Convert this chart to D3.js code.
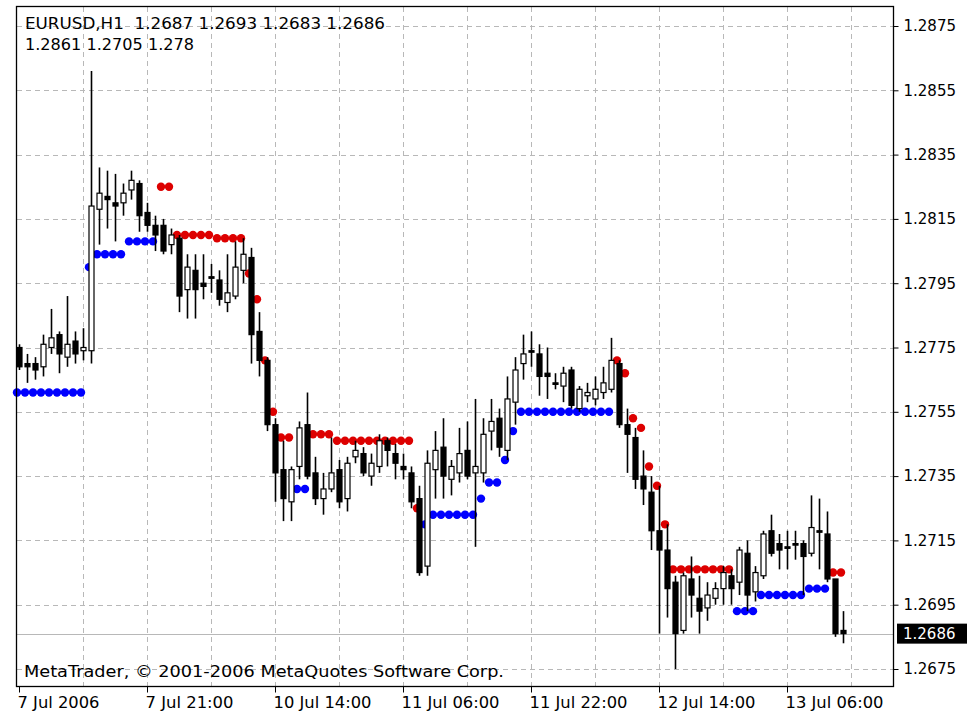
<!DOCTYPE html>
<html><head><meta charset="utf-8">
<script src="https://cdn.jsdelivr.net/npm/d3@7"></script>
<style>
html,body{margin:0;padding:0;background:#fff;}
svg{display:block;font-family:"DejaVu Sans",Verdana,sans-serif;}
</style></head><body>
<svg id="chart" width="972" height="727"></svg>
<script>
// ---------- data ----------
const symbolTitle = "EURUSD,H1";
const lastBarOHLC = [1.2687, 1.2693, 1.2683, 1.2686];
const indicatorLine = ["1.2861", "1.2705", "1.278"];
const copyright = "MetaTrader, \u00A9 2001-2006 MetaQuotes Software Corp.";
const currentPrice = 1.2686;

const open = [
1.2775,1.2770,1.2770,1.2769,1.2775,1.2779,1.2772,1.2777,1.2774,1.2774,
1.2818,1.2822,1.2820,1.2820,1.2824,1.2826,1.2817,1.2813,1.2813,1.2807,
1.2809,1.2793,1.2799,1.2795,1.2797,1.2796,1.2789,1.2791,1.2799,1.2803,
1.2780,1.2771,1.2751,1.2737,1.2727,1.2738,1.2751,1.2736,1.2728,1.2731,
1.2737,1.2728,1.2741,1.2742,1.2735,1.2738,1.2746,1.2742,1.2738,1.2736,
1.2728,1.2707,1.2737,1.2744,1.2734,1.2736,1.2743,1.2736,1.2736,1.2749,
1.2753,1.2743,1.2758,1.2770,1.2774,1.2773,1.2767,1.2764,1.2763,1.2768,
1.2756,1.2760,1.2759,1.2761,1.2762,1.2770,1.2751,1.2747,1.2735,1.2730,
1.2718,1.2712,1.2702,1.2687,1.2703,1.2697,1.2694,1.2697,1.2700,1.2704,
1.2702,1.2711,1.2699,1.2704,1.2718,1.2714,1.2713,1.2714,1.2714,1.2711,
1.2718,1.2717,1.2703,1.2687];
const high = [
1.2776,1.2773,1.2772,1.2779,1.2787,1.2780,1.2791,1.2780,1.2781,1.2861,
1.2831,1.2830,1.2829,1.2826,1.2830,1.2827,1.2820,1.2816,1.2815,1.2812,
1.2810,1.2804,1.2804,1.2804,1.2801,1.2799,1.2804,1.2808,1.2809,1.2806,
1.2786,1.2772,1.2753,1.2746,1.2738,1.2752,1.2761,1.2741,1.2736,1.2747,
1.2740,1.2741,1.2746,1.2744,1.2742,1.2748,1.2747,1.2745,1.2742,1.2738,
1.2732,1.2743,1.2749,1.2753,1.2740,1.2750,1.2752,1.2759,1.2753,1.2759,
1.2756,1.2766,1.2772,1.2779,1.2780,1.2776,1.2775,1.2767,1.2769,1.2769,
1.2763,1.2764,1.2766,1.2769,1.2778,1.2771,1.2756,1.2750,1.2743,1.2735,
1.2732,1.2720,1.2704,1.2705,1.2710,1.2704,1.2702,1.2702,1.2707,1.2706,
1.2713,1.2715,1.2707,1.2718,1.2723,1.2717,1.2718,1.2718,1.2715,1.2729,
1.2728,1.2724,1.2703,1.2693];
const low = [
1.2768,1.2764,1.2765,1.2766,1.2773,1.2767,1.2769,1.2770,1.2771,1.2770,
1.2807,1.2812,1.2808,1.2816,1.2821,1.2811,1.2811,1.2805,1.2804,1.2804,
1.2786,1.2784,1.2784,1.2790,1.2792,1.2788,1.2786,1.2790,1.2795,1.2770,
1.2766,1.2749,1.2727,1.2721,1.2721,1.2734,1.2734,1.2726,1.2723,1.2730,
1.2725,1.2724,1.2739,1.2735,1.2732,1.2736,1.2738,1.2734,1.2734,1.2725,
1.2704,1.2704,1.2728,1.2728,1.2729,1.2733,1.2734,1.2713,1.2733,1.2743,
1.2741,1.2740,1.2751,1.2765,1.2769,1.2760,1.2759,1.2762,1.2758,1.2756,
1.2755,1.2758,1.2757,1.2759,1.2761,1.2750,1.2736,1.2731,1.2726,1.2712,
1.2686,1.2691,1.2675,1.2686,1.2691,1.2686,1.2690,1.2695,1.2695,1.2695,
1.2698,1.2693,1.2696,1.2703,1.2710,1.2706,1.2706,1.2709,1.2698,1.2710,
1.2706,1.2702,1.2685,1.2683];
const close = [
1.2769,1.2769,1.2768,1.2776,1.2778,1.2773,1.2776,1.2773,1.2775,1.2819,
1.2823,1.2821,1.2819,1.2823,1.2827,1.2816,1.2813,1.2810,1.2805,1.2810,
1.2791,1.2800,1.2793,1.2794,1.2797,1.2790,1.2792,1.2800,1.2804,1.2779,
1.2771,1.2751,1.2736,1.2728,1.2737,1.2750,1.2735,1.2728,1.2731,1.2736,
1.2727,1.2739,1.2743,1.2736,1.2739,1.2746,1.2743,1.2739,1.2737,1.2727,
1.2705,1.2739,1.2743,1.2735,1.2738,1.2742,1.2735,1.2738,1.2748,1.2752,
1.2744,1.2759,1.2768,1.2773,1.2774,1.2766,1.2766,1.2764,1.2767,1.2757,
1.2762,1.2761,1.2762,1.2764,1.2771,1.2751,1.2748,1.2734,1.2731,1.2718,
1.2712,1.2700,1.2686,1.2704,1.2698,1.2693,1.2698,1.2700,1.2705,1.2700,
1.2712,1.2698,1.2705,1.2717,1.2711,1.2712,1.2713,1.2714,1.2710,1.2719,
1.2718,1.2703,1.2686,1.2686];

// trailing-stop indicator dots (blue = support below price, red = resistance above)
const blueDots = [
1.2761,1.2761,1.2761,1.2761,1.2761,1.2761,1.2761,1.2761,1.2761,1.2800,
1.2804,1.2804,1.2804,1.2804,1.2808,1.2808,1.2808,1.2808,null,null,
null,null,null,null,null,null,null,null,null,null,
null,null,null,null,null,1.2731,1.2731,null,null,null,
null,null,null,null,null,null,null,null,null,null,
null,1.2720,1.2723,1.2723,1.2723,1.2723,1.2723,1.2723,1.2728,1.2733,
1.2733,1.2740,1.2749,1.2755,1.2755,1.2755,1.2755,1.2755,1.2755,1.2755,
1.2755,1.2755,1.2755,1.2755,1.2755,null,null,null,null,null,
null,null,null,null,null,null,null,null,null,null,
1.2693,1.2693,1.2693,1.2698,1.2698,1.2698,1.2698,1.2698,1.2698,1.2700,
1.2700,1.2700,null,null];
const redDots = [
null,null,null,null,null,null,null,null,null,null,
null,null,null,null,null,null,null,null,1.2825,1.2825,
1.2810,1.2810,1.2810,1.2810,1.2810,1.2809,1.2809,1.2809,1.2809,1.2798,
1.2790,1.2771,1.2755,1.2747,1.2747,null,null,1.2748,1.2748,1.2748,
1.2746,1.2746,1.2746,1.2746,1.2746,1.2746,1.2746,1.2746,1.2746,1.2746,
1.2725,null,null,null,null,null,null,null,null,null,
null,null,null,null,null,null,null,null,null,null,
null,null,null,null,null,1.2771,1.2767,1.2753,1.2750,1.2738,
1.2732,1.2720,1.2706,1.2706,1.2706,1.2706,1.2706,1.2706,1.2706,1.2706,
null,null,null,null,null,null,null,null,null,null,
null,null,1.2705,1.2705];

const priceTicks = [1.2875,1.2855,1.2835,1.2815,1.2795,1.2775,1.2755,1.2735,1.2715,1.2695,1.2675];
const timeTickIndex = [0,16,32,48,64,80,96];
const timeTickLabels = ["7 Jul 2006","7 Jul 21:00","10 Jul 14:00","11 Jul 06:00","11 Jul 22:00","12 Jul 14:00","13 Jul 06:00"];
const gridIndex = [8,16,24,32,40,48,56,64,72,80,88,96,104];

// ---------- drawing ----------
const W = 972, H = 727;
const plot = {left:16, right:893, top:6, bottom:686};
const svg = d3.select("#chart");
svg.append("rect").attr("width",W).attr("height",H).attr("fill","#fff");

const bars = open.map((o,i)=>({i, o, h:high[i], l:low[i], c:close[i]}));
const x = d3.scaleLinear().domain([0, bars.length-1]).range([19, 843]);
const y = d3.scaleLinear().domain([1.2675, 1.2875]).range([669, 26]);
const px = v => Math.round(v) + 0.5;

const grid = svg.append("g").attr("stroke","#b8b8b8").attr("stroke-width",1).attr("stroke-dasharray","5,4");
grid.selectAll("line.h").data(priceTicks).join("line").attr("class","h")
  .attr("x1",plot.left+1).attr("x2",plot.right).attr("y1",d=>px(y(d))).attr("y2",d=>px(y(d)));
grid.selectAll("line.v").data(gridIndex).join("line").attr("class","v")
  .attr("x1",d=>px(x(d))).attr("x2",d=>px(x(d))).attr("y1",plot.top+1).attr("y2",plot.bottom);

// current price line
svg.append("line").attr("x1",plot.left).attr("x2",plot.right)
  .attr("y1",px(y(currentPrice))).attr("y2",px(y(currentPrice)))
  .attr("stroke","#b8b8b8").attr("stroke-width",1);

// indicator dots (drawn beneath the candles)
const dotR = 4.2, dotDx = -2;
svg.append("g").selectAll("circle").data(blueDots.map((v,i)=>({i,v})).filter(d=>d.v!==null)).join("circle")
  .attr("cx",d=>x(d.i)+dotDx).attr("cy",d=>y(d.v)).attr("r",dotR).attr("fill","#0000ff");
svg.append("g").selectAll("circle").data(redDots.map((v,i)=>({i,v})).filter(d=>d.v!==null)).join("circle")
  .attr("cx",d=>x(d.i)+dotDx).attr("cy",d=>y(d.v)).attr("r",dotR).attr("fill","#dd0000");

// candles
const cg = svg.append("g");
cg.selectAll("line.wick").data(bars).join("line").attr("class","wick")
  .attr("x1",d=>px(x(d.i))).attr("x2",d=>px(x(d.i)))
  .attr("y1",d=>y(d.h)).attr("y2",d=>y(d.l))
  .attr("stroke","#000").attr("stroke-width",1.6);
const bw = 5;
cg.selectAll("rect.body").data(bars).join("rect").attr("class","body")
  .attr("x",d=>px(x(d.i))-bw/2).attr("width",bw)
  .attr("y",d=>y(Math.max(d.o,d.c)))
  .attr("height",d=>Math.max(1.5, Math.abs(y(d.o)-y(d.c))))
  .attr("fill",d=>d.c>d.o ? "#fff" : "#000")
  .attr("stroke","#000").attr("stroke-width",1.2);

// frame
svg.append("rect").attr("x",plot.left+0.5).attr("y",plot.top+0.5)
  .attr("width",plot.right-plot.left).attr("height",plot.bottom-plot.top)
  .attr("fill","none").attr("stroke","#000").attr("stroke-width",1.3);

// y axis
const yAxis = d3.axisRight(y).tickValues(priceTicks).tickFormat(d3.format(".4f")).tickSize(5).tickPadding(5);
const yg = svg.append("g").attr("transform",`translate(${plot.right+0.5},0)`).call(yAxis);
yg.select(".domain").remove();
yg.selectAll("text").attr("font-family","DejaVu Sans").attr("font-size",15).attr("fill","#000");
yg.selectAll("line").attr("stroke","#000");

// current price tag
const cy = y(currentPrice);
svg.append("rect").attr("x",897).attr("y",cy-10).attr("width",70).attr("height",20).attr("fill","#000");
svg.append("text").attr("x",plot.right+10).attr("y",cy).attr("dy","0.35em")
  .attr("font-size",15).attr("fill","#fff").text(d3.format(".4f")(currentPrice));

// x axis
const xLabelWidths = [82, 88, 98, 98, 98, 98, 98];
const xAxis = d3.axisBottom(x).tickValues(timeTickIndex)
  .tickFormat((d,k)=>timeTickLabels[k]).tickSize(6).tickPadding(4);
const xg = svg.append("g").attr("transform",`translate(0,${plot.bottom+0.5})`).call(xAxis);
xg.select(".domain").remove();
xg.selectAll("line").attr("stroke","#000");
xg.selectAll("text").attr("text-anchor","start").attr("dx",-2)
  .attr("font-family","DejaVu Sans").attr("font-size",15.5).attr("fill","#000")
  .attr("textLength",(d,k)=>xLabelWidths[k]).attr("lengthAdjust","spacingAndGlyphs");

// header texts
svg.append("text").attr("x",25).attr("y",29).attr("font-size",16).style("white-space","pre")
  .attr("textLength",360).attr("lengthAdjust","spacingAndGlyphs")
  .text(symbolTitle + "  " + lastBarOHLC.map(d3.format(".4f")).join(" "));
svg.append("text").attr("x",25).attr("y",49.5).attr("font-size",16)
  .attr("textLength",169).attr("lengthAdjust","spacingAndGlyphs")
  .text(indicatorLine.join(" "));
svg.append("text").attr("x",24).attr("y",677).attr("font-size",16)
  .attr("textLength",480).attr("lengthAdjust","spacingAndGlyphs")
  .text(copyright);
</script>
</body></html>
